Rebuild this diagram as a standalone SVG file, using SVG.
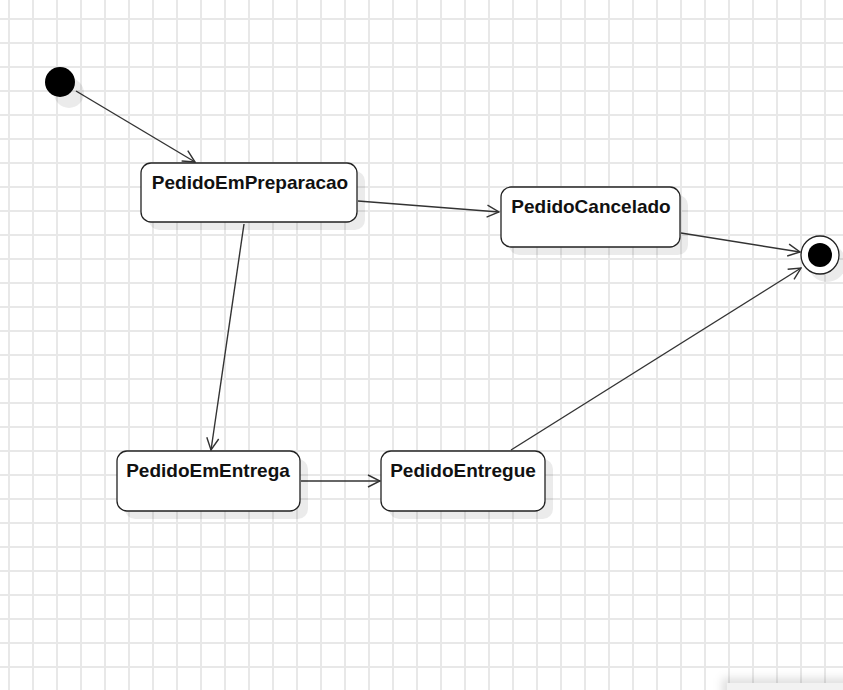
<svg xmlns="http://www.w3.org/2000/svg" width="843" height="690" viewBox="0 0 843 690">
<style>
.box{fill:#fff;stroke:#222;stroke-width:1.3}
.sh{fill:#000;fill-opacity:0.08}
.lbl{font-family:"Liberation Sans",Arial,sans-serif;font-weight:bold;font-size:19px;fill:#111;text-anchor:middle}
.edge{fill:none;stroke:#333;stroke-width:1.4}
</style>
<defs>
<pattern id="grid" x="8" y="18" width="24" height="24" patternUnits="userSpaceOnUse">
<path d="M0 1H24M1 0V24" fill="none" stroke="#e8e8e8" stroke-width="2"/>
</pattern>
<marker id="arr" viewBox="0 0 14 14" refX="13" refY="7" markerWidth="14" markerHeight="14" markerUnits="userSpaceOnUse" orient="auto">
<path d="M1 1L13 7L1 13" fill="none" stroke="#333" stroke-width="1.4"/>
</marker>
<filter id="blur" x="-20%" y="-200%" width="140%" height="500%"><feGaussianBlur stdDeviation="4"/></filter>
</defs>
<rect width="843" height="690" fill="#fff"/>
<rect width="843" height="690" fill="url(#grid)"/>
<g id="connectors">
<line class="edge" x1="76" y1="91" x2="195" y2="162" marker-end="url(#arr)"/>
<line class="edge" x1="358" y1="201" x2="499" y2="212" marker-end="url(#arr)"/>
<line class="edge" x1="681" y1="233" x2="800" y2="252" marker-end="url(#arr)"/>
<line class="edge" x1="244" y1="224" x2="211" y2="450" marker-end="url(#arr)"/>
<line class="edge" x1="301" y1="481" x2="380" y2="481" marker-end="url(#arr)"/>
<line class="edge" x1="511" y1="450" x2="801" y2="268" marker-end="url(#arr)"/>
</g>
<g id="initial">
<circle class="sh" cx="69" cy="93" r="15"/>
<circle cx="60" cy="82" r="15" fill="#000"/>
</g>
<g id="PedidoEmPreparacao">
<rect class="sh" x="149" y="171" width="216" height="59" rx="10"/>
<rect class="box" x="141" y="163" width="216" height="59" rx="10"/>
<text class="lbl" x="250" y="189">PedidoEmPreparacao</text>
</g>
<g id="PedidoCancelado">
<rect class="sh" x="509" y="195" width="179" height="60" rx="10"/>
<rect class="box" x="501" y="187" width="179" height="60" rx="10"/>
<text class="lbl" x="591" y="213">PedidoCancelado</text>
</g>
<g id="PedidoEmEntrega">
<rect class="sh" x="125" y="459" width="183" height="60" rx="10"/>
<rect class="box" x="117" y="451" width="183" height="60" rx="10"/>
<text class="lbl" x="208" y="477">PedidoEmEntrega</text>
</g>
<g id="PedidoEntregue">
<rect class="sh" x="389" y="459" width="164" height="60" rx="10"/>
<rect class="box" x="381" y="451" width="164" height="60" rx="10"/>
<text class="lbl" x="463" y="477">PedidoEntregue</text>
</g>
<g id="final">
<circle class="sh" cx="827" cy="263" r="19"/>
<circle cx="820" cy="255" r="19" fill="#fff" stroke="#222" stroke-width="1.3"/>
<circle cx="820" cy="255" r="12" fill="#000"/>
</g>
<g id="panel">
<rect x="722" y="678" width="130" height="20" fill="#000" fill-opacity="0.12" filter="url(#blur)"/>
<rect x="727" y="683" width="116" height="7" fill="#f2f2f2"/>
</g>
</svg>
